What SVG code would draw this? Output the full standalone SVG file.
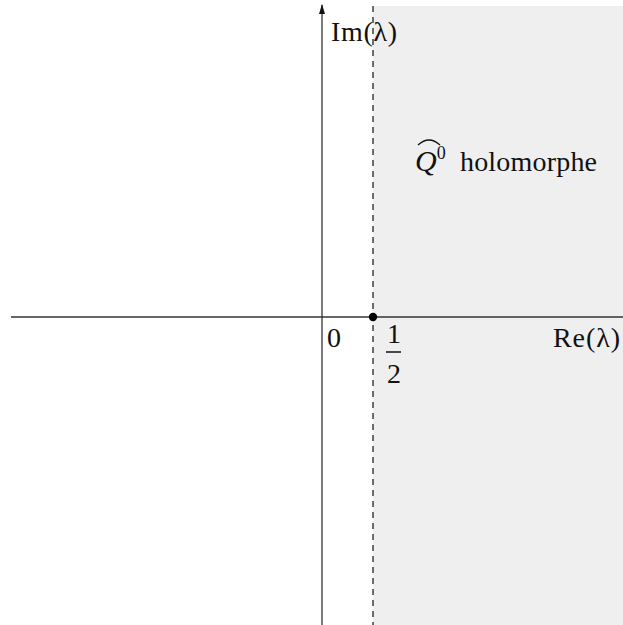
<svg xmlns="http://www.w3.org/2000/svg" width="623" height="625" viewBox="0 0 623 625">
<style>
.ax{stroke:#333;stroke-width:1.3;fill:none}
.t{font-family:"Liberation Serif","DejaVu Serif",serif;font-size:28px;fill:#111}
</style>
<defs>
<marker id="ar" markerWidth="10" markerHeight="10" refX="9" refY="5" orient="auto" markerUnits="userSpaceOnUse">
<path d="M0,2 L10,5 L0,8 Z" fill="#111"/>
</marker>
</defs>
<rect x="373" y="6" width="250" height="619" fill="#efefef"/>
<g id="connectors">
<line class="ax" x1="11" y1="317" x2="623" y2="317"/>
<line class="ax" x1="322" y1="625" x2="322" y2="5" marker-end="url(#ar)"/>
<line x1="373" y1="6" x2="373" y2="625" stroke="#111" stroke-width="1.2" stroke-dasharray="6,5"/>
</g>
<g id="point"><circle cx="373" cy="317" r="4.2" fill="#000"/></g>
<g id="im"><text class="t" x="331" y="41" textLength="66" lengthAdjust="spacing">Im(λ)</text></g>
<g id="re"><text class="t" x="553" y="347" textLength="67" lengthAdjust="spacing">Re(λ)</text></g>
<g id="zero"><text class="t" x="327" y="347">0</text></g>
<g id="half">
<text class="t" x="387" y="343">1</text>
<line x1="386" y1="352" x2="401" y2="352" stroke="#111" stroke-width="1.5"/>
<text class="t" x="387" y="383">2</text>
</g>
<g id="label">
<text class="t" x="415" y="171"><tspan font-style="italic" font-size="30">Q</tspan><tspan font-size="18" dy="-12">0</tspan></text>
<text class="t" x="460" y="171" textLength="137" lengthAdjust="spacing">holomorphe</text>
<path d="M418,145 Q429,135 440,145" stroke="#111" stroke-width="1.2" fill="none"/>
</g>
</svg>
